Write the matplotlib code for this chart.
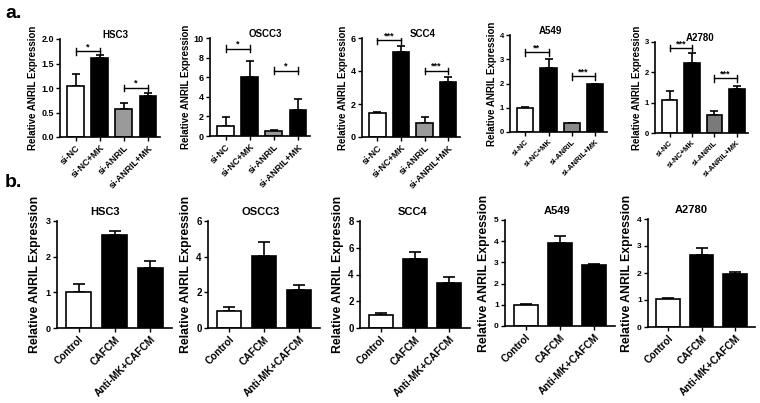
import matplotlib
matplotlib.use('Agg')
import matplotlib.pyplot as plt

plt.rcParams['font.family'] = ['Liberation Sans', 'DejaVu Sans']
plt.rcParams['font.weight'] = 'bold'

cells = ['HSC3', 'OSCC3', 'SCC4', 'A549', 'A2780']

# panel a: knockdown groups
groups_a = ['si-NC', 'si-NC+MK', 'si-ANRIL', 'si-ANRIL+MK']
means_a = [
    [1.04, 1.62, 0.57, 0.84],
    [1.02, 6.05, 0.50, 2.66],
    [1.46, 5.18, 0.87, 3.35],
    [0.98, 2.62, 0.36, 1.96],
    [1.09, 2.32, 0.60, 1.44],
]
err_a = [
    [0.24, 0.06, 0.12, 0.05],
    [0.88, 1.65, 0.10, 1.14],
    [0.06, 0.35, 0.35, 0.31],
    [0.05, 0.41, 0.03, 0.04],
    [0.31, 0.32, 0.13, 0.10],
]
ymax_a = [2.0, 10, 6, 4, 3]
ystep_a = [0.5, 2, 2, 1, 1]
# significance brackets (height of bracket for pair 1-2 and pair 3-4)
sig_y_a = [
    [1.75, 1.00],
    [8.9, 6.65],
    [5.85, 4.0],
    [3.28, 2.29],
    [2.80, 1.80],
]
sig_txt_a = [
    ['*', '*'],
    ['*', '*'],
    ['***', '***'],
    ['**', '***'],
    ['***', '***'],
]

# panel b: conditioned medium
groups_b = ['Control', 'CAFCM', 'Anti-MK+CAFCM']
means_b = [
    [1.01, 2.60, 1.68],
    [0.97, 4.02, 2.11],
    [0.99, 5.15, 3.34],
    [0.97, 3.93, 2.88],
    [1.02, 2.65, 1.96],
]
err_b = [
    [0.23, 0.11, 0.21],
    [0.21, 0.80, 0.32],
    [0.12, 0.55, 0.50],
    [0.05, 0.32, 0.04],
    [0.07, 0.27, 0.09],
]
ymax_b = [3, 6, 8, 5, 4]

fig = plt.figure(figsize=(7.6, 4.03), dpi=100)
W, H = 760.0, 403.0


def add_ax(x0, x1, top, bottom):
    return fig.add_axes([x0 / W, 1 - bottom / H, (x1 - x0) / W, (bottom - top) / H])


def style(ax, tick_fs):
    for s in ['top', 'right']:
        ax.spines[s].set_visible(False)
    for s in ['left', 'bottom']:
        ax.spines[s].set_linewidth(1.2)
    ax.tick_params(axis='both', width=1.0, length=3, labelsize=tick_fs, pad=1.5)


def bracket(ax, x1, x2, y, txt, ymax):
    h = ymax * 0.035
    ax.plot([x1, x2], [y, y], color='black', lw=1.0)
    ax.plot([x1, x1], [y - h, y + h], color='black', lw=1.0)
    ax.plot([x2, x2], [y - h, y + h], color='black', lw=1.0)
    ax.text((x1 + x2) / 2, y, txt, ha='center', va='bottom', fontsize=6.5)


rects_a = [(60, 160, 39, 137), (210, 310, 38, 136), (362, 460, 38, 137),
           (510, 607, 35, 132), (655, 748, 42, 133)]
title_x_a = [0.55, 0.55, 0.62, 0.42, 0.48]
tick_fs_a = [6.5, 6.5, 6.5, 5.5, 5.5]
greys = ['#9a9a9a', '#9a9a9a', '#9a9a9a', '#8a8a8a', '#7a7a7a']

for i, name in enumerate(cells):
    ax = add_ax(*rects_a[i])
    x = list(range(len(groups_a)))
    cols = ['white', 'black', greys[i], 'black']
    ax.bar(x, means_a[i], width=0.7, color=cols, edgecolor='black', linewidth=1.2, zorder=2)
    ax.errorbar(x, means_a[i], yerr=[[0] * 4, err_a[i]], fmt='none', ecolor='black',
                elinewidth=1.2, capsize=3, capthick=1.2, zorder=1)
    ax.set_xlim(-0.65, 3.5)
    ax.set_ylim(0, ymax_a[i])
    ticks = [k * ystep_a[i] for k in range(int(round(ymax_a[i] / ystep_a[i])) + 1)]
    ax.set_yticks(ticks)
    if ystep_a[i] < 1:
        ax.set_yticklabels(['%.1f' % t for t in ticks])
    ax.set_xticks(x)
    ax.set_xticklabels(groups_a, rotation=45, ha='right', rotation_mode='anchor')
    style(ax, tick_fs_a[i])
    ax.set_ylabel('Relative ANRIL Expression', fontsize=7, fontweight='bold', labelpad=2)
    ax.text(title_x_a[i], 0.99, name, transform=ax.transAxes, ha='center', va='bottom',
            fontsize=7, fontweight='bold')
    bracket(ax, 0, 1, sig_y_a[i][0], sig_txt_a[i][0], ymax_a[i])
    bracket(ax, 2, 3, sig_y_a[i][1], sig_txt_a[i][1], ymax_a[i])

rects_b = [(57, 172, 221, 328), (208, 320, 221, 328), (360, 470, 221, 328),
           (505, 615, 220, 326), (648, 755, 219, 327)]
title_x_b = [0.42, 0.47, 0.48, 0.47, 0.40]
tick_fs_b = [6.5, 7, 7, 6, 6]

for i, name in enumerate(cells):
    ax = add_ax(*rects_b[i])
    x = list(range(len(groups_b)))
    ax.bar(x, means_b[i], width=0.7, color=['white', 'black', 'black'], edgecolor='black',
           linewidth=1.2, zorder=2)
    ax.errorbar(x, means_b[i], yerr=[[0] * 3, err_b[i]], fmt='none', ecolor='black',
                elinewidth=1.2, capsize=4, capthick=1.2, zorder=1)
    ax.set_xlim(-0.6, 2.6)
    ax.set_ylim(0, ymax_b[i])
    step = 1 if ymax_b[i] <= 5 else 2
    ax.set_yticks(list(range(0, ymax_b[i] + 1, step)))
    ax.set_xticks(x)
    ax.set_xticklabels(groups_b, rotation=45, ha='right', rotation_mode='anchor')
    style(ax, tick_fs_b[i])
    ax.tick_params(axis='x', labelsize=7.3)
    ax.set_ylabel('Relative ANRIL Expression', fontsize=8.8, fontweight='bold', labelpad=3)
    ax.text(title_x_b[i], 1.04, name, transform=ax.transAxes, ha='center', va='bottom',
            fontsize=8, fontweight='bold')

fig.text(5 / W, 1 - 13 / H, 'a.', fontsize=14, fontweight='bold', va='center')
fig.text(5 / W, 1 - 183 / H, 'b.', fontsize=14, fontweight='bold', va='center')

fig.savefig('out.png', dpi=100, facecolor='white')
